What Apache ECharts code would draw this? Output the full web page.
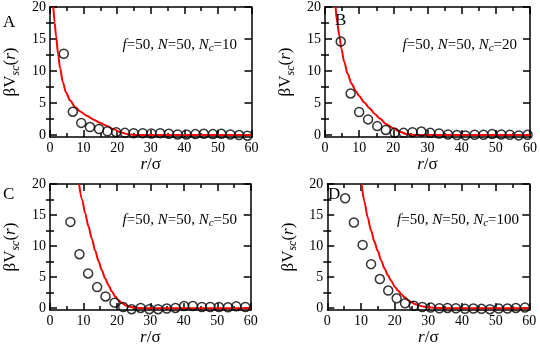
<!DOCTYPE html>
<html>
<head>
<meta charset="utf-8">
<script src="https://cdn.jsdelivr.net/npm/echarts@6/dist/echarts.min.js"></script>
<style>
  html, body { margin: 0; padding: 0; background: #fff; }
  #chart { width: 540px; height: 347px; }
</style>
</head>
<body>
<div id="chart"></div>
<script>
// simulation points (circles) and theory curve (red) per panel
const simR_A = [4.1, 6.8, 9.3, 11.9, 14.6, 17.1, 19.7, 22.3, 24.9, 27.6, 30.2, 32.8, 35.4, 38.0, 40.6, 43.3, 45.8, 48.5, 51.0, 53.7, 56.3, 58.8];
const simV_A = [12.7, 3.65, 1.9, 1.25, 0.95, 0.6, 0.45, 0.35, 0.3, 0.3, 0.25, 0.3, 0.2, 0.1, 0.1, 0.15, 0.2, 0.15, 0.2, 0.1, 0.0, -0.1];
const curveR_A = [1.0, 1.4, 1.8, 2.4, 3.0, 3.8, 4.8, 6.0, 7.5, 9.0, 11, 13, 15, 17, 19, 21, 23, 25, 27, 60];
const curveV_A = [20, 17.5, 15.5, 12.7, 10.5, 8.3, 6.6, 5.4, 4.4, 3.7, 3.0, 2.4, 1.9, 1.4, 0.9, 0.45, 0.15, 0.03, 0, 0];

const simR_B = [4.6, 7.5, 10.0, 12.6, 15.3, 17.8, 20.4, 23.0, 25.6, 28.2, 30.8, 33.4, 36.0, 38.6, 41.1, 43.8, 46.4, 48.9, 51.6, 54.1, 56.7, 59.3];
const simV_B = [14.6, 6.5, 3.6, 2.45, 1.4, 0.8, 0.35, 0.35, 0.45, 0.55, 0.35, 0.25, 0.1, 0.0, -0.05, 0.05, 0.05, 0.15, 0.1, 0.05, -0.05, 0.05];
const curveR_B = [3.1, 3.6, 4.2, 4.8, 5.6, 6.6, 7.8, 9.0, 10, 11.5, 13, 14.6, 16, 18, 20, 22, 24, 26, 28, 60];
const curveV_B = [20, 17.5, 15.5, 13.5, 11.5, 9.6, 8.0, 6.9, 6.1, 5.1, 4.2, 3.3, 2.6, 1.7, 1.05, 0.5, 0.15, 0.02, 0, 0];

const simR_C = [6.1, 8.8, 11.4, 14.1, 16.6, 19.3, 21.9, 24.4, 27.1, 29.7, 32.3, 34.9, 37.5, 40.1, 42.7, 45.4, 47.9, 50.5, 53.2, 55.7, 58.4];
const simV_C = [13.9, 8.7, 5.6, 3.4, 1.9, 0.9, 0.2, -0.15, 0.05, -0.15, -0.15, -0.05, 0.05, 0.35, 0.35, 0.2, 0.2, 0.2, 0.15, 0.3, 0.2];
const curveR_C = [8.7, 9.6, 10.5, 11.5, 12.5, 13.5, 14.5, 15.5, 16.5, 17.5, 18.5, 19.5, 20.5, 21.5, 22.5, 23.5, 25, 27, 30, 60];
const curveV_C = [20, 17.5, 15.3, 13.2, 11.2, 9.3, 7.6, 6.1, 4.8, 3.7, 2.7, 1.9, 1.3, 0.85, 0.5, 0.28, 0.1, 0.02, 0, 0];

const simR_D = [5.3, 7.9, 10.5, 13.0, 15.6, 18.1, 20.6, 23.1, 25.7, 28.2, 30.7, 33.3, 35.7, 38.2, 40.9, 43.4, 45.8, 48.3, 50.9, 53.5, 56.0, 58.7];
const simV_D = [17.7, 13.8, 10.2, 7.1, 4.7, 2.85, 1.6, 0.8, 0.4, 0.2, 0.1, 0.0, 0.05, 0.0, -0.1, -0.05, -0.1, -0.15, -0.05, -0.05, 0.05, 0.1];
const curveR_D = [10.2, 11, 12, 13, 14, 15, 16, 17, 18, 19, 20, 21, 22, 23, 24, 25, 26, 27, 28.5, 30, 32, 35, 38, 60];
const curveV_D = [20, 17.2, 14.6, 12.5, 10.7, 9.2, 7.7, 6.4, 5.3, 4.4, 3.5, 2.85, 2.25, 1.75, 1.3, 0.95, 0.7, 0.5, 0.28, 0.15, 0.06, 0.01, 0, 0];

const yMajor = [0, 5, 10, 15, 20];
const yMinor = [2.5, 7.5, 12.5, 17.5];
const letters = ['A', 'B', 'C', 'D'];
const ncValues = [10, 20, 50, 100];

const panels = [
  { simR: simR_A, simV: simV_A, curveR: curveR_A, curveV: curveV_A, grid: { left: 46, top: 7, width: 205.5, height: 130 }, letter: { left: 3, top: 14 }, note: { right: 303, top: 36 } },
  { simR: simR_B, simV: simV_B, curveR: curveR_B, curveV: curveV_B, grid: { left: 325, top: 7, width: 205.7, height: 130 }, letter: { left: 335, top: 12 }, note: { right: 23, top: 36 } },
  { simR: simR_C, simV: simV_C, curveR: curveR_C, curveV: curveV_C, grid: { left: 46, top: 184, width: 204.7, height: 130 }, letter: { left: 3, top: 186 }, note: { right: 303, top: 211 } },
  { simR: simR_D, simV: simV_D, curveR: curveR_D, curveV: curveV_D, grid: { left: 327.3, top: 184, width: 202, height: 128.6 }, letter: { left: 328, top: 186 }, note: { right: 21, top: 211 } }
];

const font = 'Liberation Serif';
const lineStyle = { color: '#000', width: 1.5 };
const tickLabel = { color: '#000', fontFamily: font, fontSize: 14 };

const grid = [], xAxis = [], yAxis = [], series = [], title = [];

panels.forEach((p, i) => {
  grid.push(p.grid);

  const xBase = { gridIndex: i, type: 'value', min: 0, max: 60, interval: 10,
    axisLine: { onZero: false, lineStyle }, splitLine: { show: false },
    axisTick: { inside: true, length: 7, lineStyle },
    minorTick: { show: true, splitNumber: 2, length: 4, lineStyle } };
  const xi = xAxis.length;
  xAxis.push(Object.assign({}, xBase, {
    position: 'bottom',
    axisLabel: Object.assign({ margin: 4 }, tickLabel),
    name: '{i|r}/σ', nameLocation: 'middle', nameGap: 18,
    nameTextStyle: { color: '#000', fontFamily: font, fontSize: 17,
      rich: { i: { fontStyle: 'italic', fontFamily: font, fontSize: 17, color: '#000' } } }
  }));
  xAxis.push(Object.assign({}, xBase, { position: 'top', axisLabel: { show: false } }));

  const yBase = { gridIndex: i, type: 'value', min: -0.3, max: 20, splitLine: { show: false } };
  const yi = yAxis.length;
  yAxis.push(Object.assign({}, yBase, {
    position: 'left',
    axisLine: { onZero: false, lineStyle },
    axisTick: { inside: true, length: 7, lineStyle, customValues: yMajor },
    axisLabel: Object.assign({ margin: 4, customValues: yMajor }, tickLabel),
    name: '{b|βV}{s|sc}{b|(}{i|r}{b|)}', nameLocation: 'middle', nameGap: 28,
    nameTextStyle: { color: '#000', fontFamily: font, fontSize: 17,
      rich: {
        b: { fontFamily: font, fontSize: 17, color: '#000', lineHeight: 22, verticalAlign: 'middle' },
        i: { fontFamily: font, fontSize: 17, color: '#000', fontStyle: 'italic', lineHeight: 22, verticalAlign: 'middle' },
        s: { fontFamily: font, fontSize: 12, color: '#000', fontStyle: 'italic', lineHeight: 22, verticalAlign: 'bottom', padding: [9, 0, 0, 0] }
      } }
  }));
  yAxis.push(Object.assign({}, yBase, {
    position: 'left', axisLine: { show: false }, axisLabel: { show: false },
    axisTick: { inside: true, length: 4, lineStyle, customValues: yMinor }
  }));
  yAxis.push(Object.assign({}, yBase, {
    position: 'right', axisLine: { onZero: false, lineStyle }, axisLabel: { show: false },
    axisTick: { inside: true, length: 7, lineStyle, customValues: yMajor }
  }));
  yAxis.push(Object.assign({}, yBase, {
    position: 'right', axisLine: { show: false }, axisLabel: { show: false },
    axisTick: { inside: true, length: 4, lineStyle, customValues: yMinor }
  }));

  series.push({
    type: 'line', xAxisIndex: xi, yAxisIndex: yi,
    data: p.curveR.map((r, k) => [r, p.curveV[k]]),
    showSymbol: false, smooth: 0.3, smoothMonotone: 'x',
    lineStyle: { color: '#ff0000', width: 2 }, z: 2
  });
  series.push({
    type: 'scatter', xAxisIndex: xi, yAxisIndex: yi,
    data: p.simR.map((r, k) => [r, p.simV[k]]),
    symbol: 'circle', symbolSize: 9, clip: false,
    itemStyle: { color: 'rgba(0,0,0,0)', borderColor: '#000', borderWidth: 1.5 }, z: 3
  });

  title.push({
    text: letters[i], left: p.letter.left, top: p.letter.top, padding: 0,
    textStyle: { fontFamily: font, fontSize: 17, fontWeight: 'normal', color: '#000' }
  });
  title.push({
    text: '{i|f}=50, {i|N}=50, {i|N}{s|c}=' + ncValues[i],
    right: p.note.right, top: p.note.top, padding: 0,
    textStyle: { fontFamily: font, fontSize: 15, fontWeight: 'normal', color: '#000',
      rich: {
        i: { fontFamily: font, fontSize: 15, fontStyle: 'italic', color: '#000', lineHeight: 18, verticalAlign: 'middle' },
        s: { fontFamily: font, fontSize: 11, fontStyle: 'italic', color: '#000', lineHeight: 18, verticalAlign: 'bottom', padding: [7, 0, 0, 0] }
      } }
  });
});

const chart = echarts.init(document.getElementById('chart'));
chart.setOption({
  animation: false, backgroundColor: '#fff',
  textStyle: { fontFamily: font },
  title, grid, xAxis, yAxis, series
});
</script>
</body>
</html>
